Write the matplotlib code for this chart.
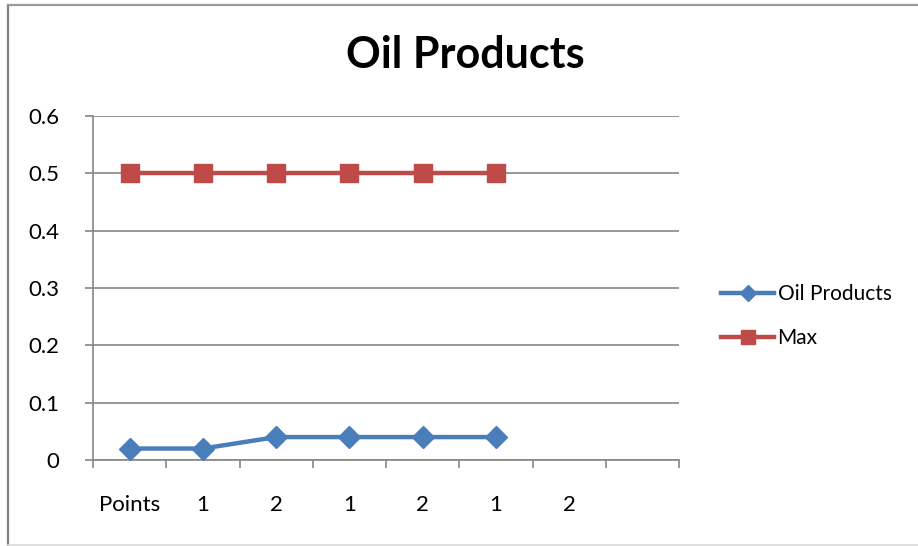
import matplotlib
matplotlib.use("Agg")
import matplotlib.pyplot as plt
from matplotlib.lines import Line2D
import numpy as np

categories = ["Points", "1", "2", "1", "2", "1", "2", ""]
oil_products = [0.02, 0.02, 0.04, 0.04, 0.04, 0.04]
max_values = [0.5, 0.5, 0.5, 0.5, 0.5, 0.5]
y_ticks = [0, 0.1, 0.2, 0.3, 0.4, 0.5, 0.6]
y_tick_labels = ["0", "0.1", "0.2", "0.3", "0.4", "0.5", "0.6"]

BLUE = "#4A7EBB"
RED = "#BE4B48"
GRID = "#868686"
FONT = "Lato"

fig = plt.figure(figsize=(9.18, 5.46), dpi=100)
W, H = 918, 546

# chart frame
fig.add_artist(Line2D([7.5 / W, 7.5 / W], [1 - 4.5 / H, 1 - 545 / H], color="#7f7f7f", lw=1.6,
                      transform=fig.transFigure))
fig.add_artist(Line2D([7.5 / W, 1.0], [1 - 4.5 / H, 1 - 4.5 / H], color="#9a9a9a", lw=1.6,
                      transform=fig.transFigure))
fig.add_artist(Line2D([7.5 / W, 1.0], [1 - 545 / H, 1 - 545 / H], color="#d9d9d9", lw=1.2,
                      transform=fig.transFigure))

left, right, top, bottom = 93, 679, 116, 460
ax = fig.add_axes([left / W, 1 - bottom / H, (right - left) / W, (bottom - top) / H])

x = np.arange(len(oil_products))
ax.plot(x, max_values, color=RED, lw=3.2, marker="s", markersize=13.5,
        markerfacecolor=RED, markeredgecolor=RED, zorder=3, solid_capstyle="butt")
ax.plot(x, oil_products, color=BLUE, lw=3.2, marker="D", markersize=11,
        markerfacecolor=BLUE, markeredgecolor=BLUE, zorder=3, solid_capstyle="butt")

n = len(categories)
ax.set_xlim(-0.5, n - 0.5)
ax.set_ylim(0, 0.6)

ax.set_yticks(y_ticks)
ax.set_yticklabels(y_tick_labels, fontsize=16, family=FONT)
ax.set_xticks(np.arange(n))
ax.set_xticklabels(categories, fontsize=16, family=FONT)
ax.set_xticks(np.arange(n + 1) - 0.5, minor=True)
ax.tick_params(axis="x", which="major", length=0, pad=25)
ax.tick_params(axis="x", which="minor", length=6, color=GRID, width=1.2, direction="out")
ax.tick_params(axis="y", length=6, color=GRID, width=1.2, direction="out", pad=18)
for lbl in ax.get_yticklabels():
    lbl.set_horizontalalignment("right")

ax.grid(axis="y", color=GRID, lw=1.2)
ax.set_axisbelow(True)
for side in ("top", "right"):
    ax.spines[side].set_visible(False)
for side in ("left", "bottom"):
    ax.spines[side].set_color(GRID)
    ax.spines[side].set_linewidth(1.2)

fig.text(465 / W, 1 - 55 / H, "Oil Products", ha="center", va="center",
         fontsize=31, fontweight="bold", family=FONT)

handles = [
    Line2D([], [], color=BLUE, lw=3.2, marker="D", markersize=8.5, markerfacecolor=BLUE),
    Line2D([], [], color=RED, lw=3.2, marker="s", markersize=10.5, markerfacecolor=RED),
]
fig.legend(handles, ["Oil Products", "Max"], loc="center left",
           bbox_to_anchor=(713 / W, 1 - 316 / H), frameon=False,
           prop={"family": FONT, "size": 15}, handlelength=2.55, handletextpad=0.15,
           labelspacing=1.15, borderaxespad=0)

fig.savefig("out.png", dpi=100, facecolor="white")
